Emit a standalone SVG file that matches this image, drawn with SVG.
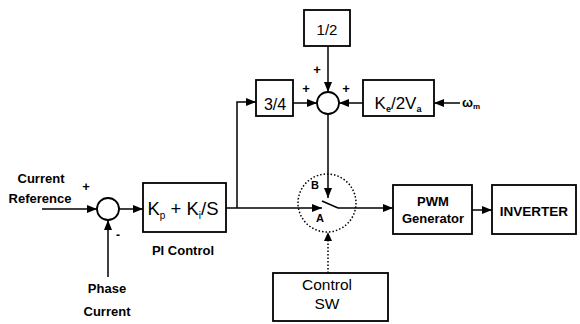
<svg xmlns="http://www.w3.org/2000/svg" width="580" height="324" viewBox="0 0 580 324">
<style>
.box{fill:#fff;stroke:#000;stroke-width:1.8}
.ln{fill:none;stroke:#000;stroke-width:1.5}
.dot{fill:none;stroke:#000;stroke-width:1.5;stroke-dasharray:1.5 2}
.t{font-family:"Liberation Sans",Arial,sans-serif;fill:#000}
.b{font-weight:bold}
</style>
<defs>
<marker id="ah" viewBox="0 0 10 8" refX="10" refY="4" markerWidth="10" markerHeight="8" markerUnits="userSpaceOnUse" orient="auto">
<path d="M0,0 L10,4 L0,8 Z" fill="#000"/>
</marker>
</defs>
<rect width="580" height="324" fill="#fff"/>

<g id="connectors">
<line class="ln" x1="42" y1="209" x2="97" y2="209" marker-end="url(#ah)"/>
<line class="ln" x1="108" y1="277" x2="108" y2="220" marker-end="url(#ah)"/>
<line class="ln" x1="119" y1="209" x2="143" y2="209" marker-end="url(#ah)"/>
<line class="ln" x1="226" y1="208" x2="322" y2="208" marker-end="url(#ah)"/>
<polyline class="ln" points="237,208 237,102 256,102" marker-end="url(#ah)"/>
<line class="ln" x1="293" y1="103" x2="317" y2="103" marker-end="url(#ah)"/>
<line class="ln" x1="328" y1="46" x2="328" y2="92" marker-end="url(#ah)"/>
<line class="ln" x1="363" y1="103" x2="339" y2="103" marker-end="url(#ah)"/>
<line class="ln" x1="460" y1="103" x2="434" y2="103" marker-end="url(#ah)"/>
<line class="ln" x1="328" y1="114" x2="328" y2="198" marker-end="url(#ah)"/>
<line class="ln" x1="322" y1="201" x2="338" y2="208"/>
<line class="ln" x1="338" y1="208" x2="393" y2="208" marker-end="url(#ah)"/>
<line class="ln" x1="472" y1="210" x2="492" y2="210" marker-end="url(#ah)"/>
<line class="dot" x1="328" y1="273" x2="328" y2="241"/>
<path d="M324,241 L328,232 L332,241 Z" fill="#000"/>
</g>

<g id="sum1">
<circle class="box" cx="108" cy="209" r="11"/>
<text class="t b" x="86" y="191" font-size="13" text-anchor="middle">+</text>
<text class="t b" x="118" y="239" font-size="12" text-anchor="middle">-</text>
</g>

<g id="current-ref">
<text class="t b" x="41" y="183" font-size="13" text-anchor="middle">Current</text>
<text class="t b" x="40" y="203" font-size="13" text-anchor="middle">Reference</text>
</g>

<g id="phase-current">
<text class="t b" x="107" y="293" font-size="13" text-anchor="middle">Phase</text>
<text class="t b" x="107" y="316" font-size="13" text-anchor="middle">Current</text>
</g>

<g id="pi">
<rect class="box" x="143" y="183" width="83" height="49"/>
<text class="t" x="183" y="215" font-size="18.5" text-anchor="middle">K<tspan font-size="10" dy="4">p</tspan><tspan dy="-4"> + K</tspan><tspan font-size="10" dy="4">i</tspan><tspan dy="-4">/S</tspan></text>
<text class="t b" x="183" y="255" font-size="13" text-anchor="middle">PI Control</text>
</g>

<g id="half">
<rect class="box" x="304" y="10" width="46" height="36"/>
<text class="t" x="327" y="35" font-size="15" text-anchor="middle">1/2</text>
</g>

<g id="three-quarter">
<rect class="box" x="256" y="80" width="37" height="36"/>
<text class="t" x="275" y="110" font-size="16" text-anchor="middle">3/4</text>
</g>

<g id="sum2">
<circle class="box" cx="328" cy="103" r="11"/>
<text class="t b" x="317" y="74" font-size="13" text-anchor="middle">+</text>
<text class="t b" x="306" y="93" font-size="13" text-anchor="middle">+</text>
<text class="t b" x="346" y="93" font-size="13" text-anchor="middle">+</text>
</g>

<g id="ke">
<rect class="box" x="363" y="80" width="71" height="36"/>
<text class="t" x="398" y="109" font-size="17" text-anchor="middle">K<tspan font-size="9" font-weight="bold" dy="3">e</tspan><tspan dy="-3">/2V</tspan><tspan font-size="9" font-weight="bold" dy="3">a</tspan></text>
<text class="t b" x="462" y="107" font-size="13">ω<tspan font-size="8" dy="2">m</tspan></text>
</g>

<g id="switch">
<circle class="dot" cx="327" cy="203" r="29"/>
<text class="t b" x="315" y="189" font-size="11" text-anchor="middle">B</text>
<text class="t b" x="320" y="222" font-size="11" text-anchor="middle">A</text>
</g>

<g id="pwm">
<rect class="box" x="393" y="185" width="79" height="49"/>
<text class="t b" x="433" y="206" font-size="13" text-anchor="middle">PWM</text>
<text class="t b" x="433" y="223" font-size="13" text-anchor="middle">Generator</text>
</g>

<g id="inverter">
<rect class="box" x="492" y="185" width="84" height="49"/>
<text class="t b" x="534" y="216" font-size="13.5" text-anchor="middle">INVERTER</text>
</g>

<g id="control-sw">
<rect class="box" x="273" y="273" width="115" height="48"/>
<text class="t" x="327" y="290" font-size="15.5" text-anchor="middle">Control</text>
<text class="t" x="327" y="309" font-size="15.5" text-anchor="middle">SW</text>
</g>
</svg>
